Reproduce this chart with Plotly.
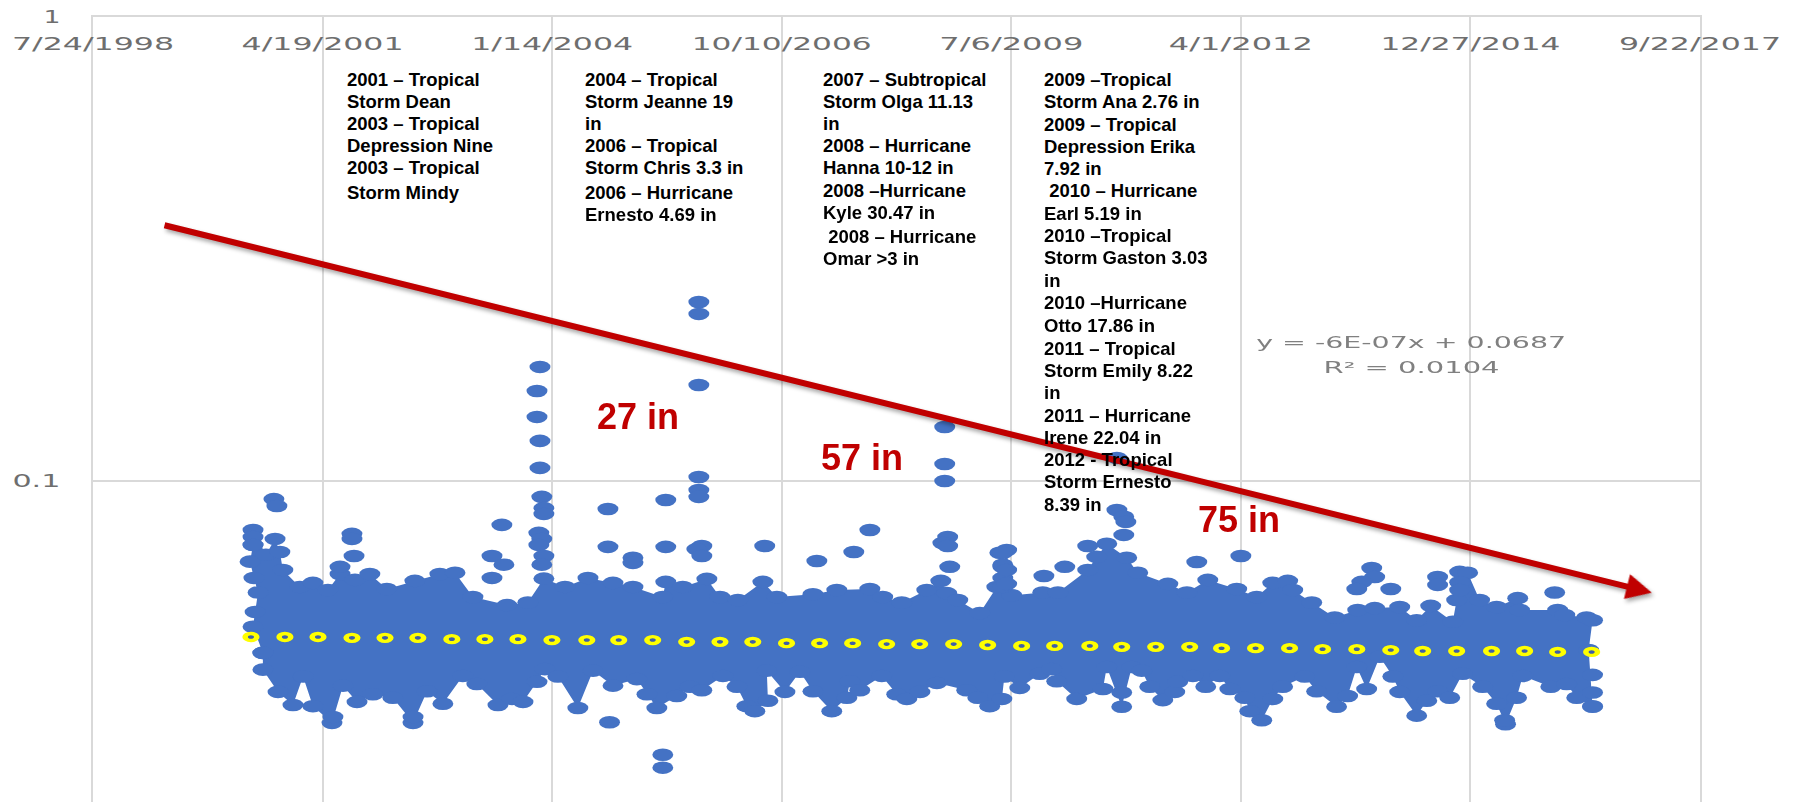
import plotly.graph_objects as go

# Excel serial dates on the x axis, ratio values on the log y axis
x_tick_vals = [36000, 37000, 38000, 39000, 40000, 41000, 42000, 43000]
x_tick_text = ["7/24/1998", "4/19/2001", "1/14/2004", "10/10/2006", "7/6/2009", "4/1/2012", "12/27/2014", "9/22/2017"]
y_tick_vals = [0.1, 1]
y_tick_text = ["0.1", "1"]

upper_days = [36740, 36697, 36706, 36719, 36701, 36684, 36697, 36697, 36753, 36793, 36814, 36827, 36901, 36958, 37023, 37076, 37141, 37206, 37280,
              37402, 37511, 37577, 37655, 37803, 37894, 37964, 38056, 38156, 38265, 38352, 38482, 38495, 38569, 38674, 38731,
              38809, 38918, 38979, 39136, 39240, 39384, 39440, 39523, 39632, 39693, 39719, 39767, 39863, 39937, 39963, 39980,
              40002, 40137, 40203, 40333, 40372, 40416, 40503, 40551, 40682, 40765, 40856, 40982, 41069, 41139, 41204, 41226,
              41309, 41409, 41509, 41583, 41692, 41766, 41827, 41923, 41940, 41953, 41988, 42040, 42114, 42206, 42214, 42380,
              42411, 42506, 42532, 42515]
upper_vals = [0.0426, 0.0485, 0.0522, 0.0575, 0.0618, 0.0670, 0.0728, 0.0784, 0.0693, 0.0750, 0.0703, 0.0643, 0.0591, 0.0603, 0.0582, 0.0630, 0.0612, 0.0630, 0.0585,
              0.0609, 0.0630, 0.0634, 0.0562, 0.0540, 0.0547, 0.0616, 0.0591, 0.0618, 0.0603, 0.0591, 0.0562, 0.0606, 0.0591, 0.0615, 0.0562,
              0.0554, 0.0606, 0.0562, 0.0570, 0.0582, 0.0585, 0.0562, 0.0547, 0.0582, 0.0609, 0.0573, 0.0554, 0.0519, 0.0591, 0.0653, 0.0710,
              0.0567, 0.0575, 0.0575, 0.0643, 0.0686, 0.0732, 0.0683, 0.0634, 0.0600, 0.0575, 0.0612, 0.0585, 0.0562, 0.0603, 0.0609, 0.0582,
              0.0547, 0.0508, 0.0527, 0.0532, 0.0535, 0.0501, 0.0538, 0.0497, 0.0554, 0.0637, 0.0634, 0.0554, 0.0535, 0.0559, 0.0527, 0.0527,
              0.0514, 0.0508, 0.0501, 0.0432]

lower_days = [36740, 36740, 36806, 36871, 36915, 36958, 37041, 37089, 37150, 37219, 37306, 37394, 37455, 37524, 37611, 37672, 37764, 37825,
              37873, 37934, 37968, 38025, 38112, 38178, 38265, 38369, 38413, 38456, 38543, 38600, 38652, 38744, 38805, 38848, 38883,
              38940, 38935, 39014, 39079, 39136, 39218, 39284, 39297, 39340, 39436, 39501, 39545, 39602, 39676, 39806, 39854, 39906,
              39959, 39970, 40037, 40124, 40176, 40198, 40285, 40399, 40416, 40481, 40525, 40568, 40603, 40660, 40712, 40725, 40791,
              40847, 40908, 40952, 41017, 41039, 41091, 41139, 41182, 41278, 41330, 41417, 41465, 41505, 41548, 41605, 41662, 41692,
              41766, 41810, 41857, 41910, 41966, 42053, 42114, 42153, 42201, 42228, 42350, 42419, 42463, 42532]
lower_vals = [0.0426, 0.0392, 0.0351, 0.0329, 0.0379, 0.0327, 0.0301, 0.0362, 0.0334, 0.0347, 0.0341, 0.0301, 0.0352, 0.0331, 0.0380, 0.0365, 0.0329, 0.0339,
              0.0334, 0.0369, 0.0393, 0.0379, 0.0324, 0.0390, 0.0362, 0.0374, 0.0347, 0.0324, 0.0344, 0.0360, 0.0354, 0.0380, 0.0360, 0.0327, 0.0319,
              0.0336, 0.0390, 0.0351, 0.0388, 0.0352, 0.0319, 0.0341, 0.0370, 0.0354, 0.0380, 0.0347, 0.0339, 0.0351, 0.0367, 0.0354, 0.0341, 0.0327,
              0.0339, 0.0379, 0.0358, 0.0384, 0.0393, 0.0370, 0.0339, 0.0356, 0.0397, 0.0326, 0.0397, 0.0390, 0.0360, 0.0337, 0.0351, 0.0369, 0.0380,
              0.0360, 0.0380, 0.0356, 0.0341, 0.0319, 0.0305, 0.0339, 0.0360, 0.0379, 0.0352, 0.0326, 0.0344, 0.0397, 0.0356, 0.0418, 0.0379, 0.0351,
              0.0312, 0.0336, 0.0352, 0.0341, 0.0384, 0.0360, 0.0331, 0.0299, 0.0341, 0.0380, 0.0360, 0.0365, 0.0341, 0.0327]

outlier_days = [36788, 36801, 36697, 36697, 37076, 37128, 37128, 37137, 37781, 37738, 37790, 37738, 37947, 37934, 37934, 37947, 37947,
                37955, 37964, 37964, 37942, 37955, 37942, 37964, 37955, 38243, 38243, 38352, 38352, 38495, 38495, 38639, 38639, 38639,
                38639, 38639, 38639, 38652, 38630, 38652, 38926, 39153, 39314, 39384, 39723, 39702, 39723, 39732, 39710, 39710, 39710,
                39950, 40460, 40460, 40490, 40499, 40490, 40333, 40233, 40142, 40808, 41000, 41570, 41583, 41527, 41505, 41653, 41857,
                41857, 41953, 41953, 42367, 38250, 38482, 38482, 40481, 37045, 37394, 42149,
                39963, 39963, 39963, 39963, 39980, 39980, 42532, 42532, 42532]
outlier_vals = [0.0914, 0.0883, 0.0757, 0.0728, 0.0653, 0.0769, 0.0750, 0.0689, 0.0804, 0.0689, 0.0660, 0.0618, 0.1761, 0.1563, 0.1374, 0.1220, 0.1067,
                0.0924, 0.0874, 0.0849, 0.0773, 0.0750, 0.0728, 0.0689, 0.0660, 0.0870, 0.0721, 0.0683, 0.0666, 0.0910, 0.0721, 0.2431, 0.2291, 0.1610,
                0.1020, 0.0956, 0.0924, 0.0724, 0.0713, 0.0689, 0.0724, 0.0672, 0.0703, 0.0784, 0.0757, 0.0735, 0.0724, 0.0653, 0.1307, 0.1088, 0.1000,
                0.0700, 0.1121, 0.0866, 0.0837, 0.0816, 0.0765, 0.0724, 0.0653, 0.0624, 0.0669, 0.0689, 0.0649, 0.0621, 0.0606, 0.0585, 0.0585, 0.0621,
                0.0597, 0.0605, 0.0582, 0.0575, 0.0302, 0.0257, 0.0241, 0.0350, 0.0310, 0.0310, 0.0305,
                0.0700, 0.0660, 0.0618, 0.0591, 0.0643, 0.0600, 0.0382, 0.0350, 0.0326]

median_days = [36688, 36836, 36980, 37128, 37272, 37415, 37563, 37707, 37851, 37999, 38151, 38290, 38438, 38586, 38731, 38874, 39021,
               39165, 39309, 39457, 39601, 39749, 39897, 40045, 40189, 40342, 40481, 40629, 40777, 40916, 41064, 41212, 41356, 41505,
               41653, 41792, 41940, 42092, 42236, 42380, 42528]
median_vals = [0.0461, 0.0461, 0.0461, 0.0459, 0.0459, 0.0459, 0.0456, 0.0456, 0.0456, 0.0454, 0.0454, 0.0454, 0.0454, 0.0450, 0.0450, 0.0450, 0.0447,
               0.0447, 0.0447, 0.0445, 0.0445, 0.0445, 0.0443, 0.0441, 0.0441, 0.0441, 0.0439, 0.0439, 0.0439, 0.0436, 0.0436, 0.0436, 0.0434, 0.0434,
               0.0432, 0.0430, 0.0430, 0.0430, 0.0430, 0.0428, 0.0428]

arrow_days = [36305, 42790]
arrow_logs = [-0.448, -1.241]

block_1 = ["2001 – Tropical", "Storm Dean", "2003 – Tropical", "Depression Nine", "2003 – Tropical", "Storm Mindy"]
block_2 = ["2004 – Tropical", "Storm Jeanne 19", "in", "2006 – Tropical", "Storm Chris 3.3 in", "2006 – Hurricane", "Ernesto 4.69 in"]
block_3 = ["2007 – Subtropical", "Storm Olga 11.13", "in", "2008 – Hurricane", "Hanna 10-12 in", "2008 –Hurricane", "Kyle 30.47 in",
           "\u00a02008 – Hurricane", "Omar >3 in"]
block_4 = ["2009 –Tropical", "Storm Ana 2.76 in", "2009 – Tropical", "Depression Erika", "7.92 in", "\u00a02010 – Hurricane", "Earl 5.19 in",
           "2010 –Tropical", "Storm Gaston 3.03", "in", "2010 –Hurricane", "Otto 17.86 in", "2011 – Tropical", "Storm Emily 8.22", "in",
           "2011 – Hurricane", "Irene 22.04 in", "2012 - Tropical", "Storm Ernesto", "8.39 in"]
totals = ["27 in", "57 in", "75 in"]
equation = ["y = -6E-07x + 0.0687", "R² = 0.0104"]

W, H = 1801, 802
L, R, T, B = 93, 1700, 17, 802
BLUE, RED = "#4472C4", "#C00000"
GRID = "#D9D9D9"
TICK = "#6E6E6E"


def px(x):
    return (x - L) / (R - L)


def py(y):
    return 1 - (y - T) / (B - T)


def dots():
    return dict(symbol="circle", size=13.5, color=BLUE, line=dict(width=0))


fig = go.Figure()
fig.add_trace(go.Scatter(x=upper_days + lower_days[::-1], y=upper_vals + lower_vals[::-1], mode="lines", fill="toself",
                         fillcolor=BLUE, line=dict(width=0, color=BLUE), hoverinfo="skip", showlegend=False))
for xs, ys in [(upper_days, upper_vals), (lower_days, lower_vals), (outlier_days, outlier_vals)]:
    fig.add_trace(go.Scatter(x=xs, y=ys, mode="markers", marker=dots(), showlegend=False))
fig.add_trace(go.Scatter(x=median_days, y=median_vals, mode="markers", showlegend=False,
                         marker=dict(symbol="circle", size=7.5, color="#3E5FA8", line=dict(width=3.6, color="#FFFF00"))))

anns = []


def text_at(x, y, s, size, color, bold=True, anchor="left", family="Liberation Sans"):
    anns.append(dict(xref="paper", yref="paper", x=px(x), y=py(y), text=s, showarrow=False, xanchor=anchor, yanchor="middle",
                     font=dict(family=family, size=size, color=color, weight="bold" if bold else "normal")))


# trend arrow goes under the text
anns.append(dict(xref="x", yref="y", axref="x", ayref="y", x=arrow_days[1], y=arrow_logs[1], ax=arrow_days[0], ay=arrow_logs[0],
                 text="", showarrow=True, arrowhead=2, arrowsize=0.85, arrowwidth=6, arrowcolor=RED, standoff=0, startstandoff=0))

b1_y = [80, 102, 124, 146, 168, 193]
b2_y = [80, 102, 124, 146, 168, 193, 215]
b3_y = [80, 102, 124, 146, 168, 191, 213, 237, 259]
b4_y = [80, 102, 125, 147, 169, 191, 214, 236, 258, 281, 303, 325, 348, 370, 392, 415, 437, 459, 481, 504]
for left, lines, ys in [(345, block_1, b1_y), (583, block_2, b2_y), (821, block_3, b3_y), (1042, block_4, b4_y)]:
    for s, y in zip(lines, ys):
        text_at(left, y, s, 18.5, "#000000")

for s, (x, y) in zip(totals, [(638, 416), (862, 457), (1239, 519)]):
    text_at(x, y, s, 36, RED, anchor="center")
for s, y in zip(equation, [342, 367]):
    text_at(1411, y, s, 16, "#808080", bold=False, anchor="center", family="DejaVu Sans")

fig.update_layout(
    width=W, height=H, autosize=False, paper_bgcolor="white", plot_bgcolor="white", showlegend=False,
    margin=dict(l=L, r=W - R, t=T, b=H - B, pad=0), annotations=anns,
    xaxis=dict(range=[36000, 43000], side="top", ticklabelposition="inside", tickmode="array", tickvals=x_tick_vals,
               ticktext=x_tick_text, showgrid=True, gridcolor=GRID, gridwidth=2, zeroline=False, showline=True, linecolor=GRID,
               linewidth=2, ticks="", ticklabeloverflow="allow", ticklabelstandoff=21,
               tickfont=dict(family="DejaVu Sans", size=18, color=TICK)),
    yaxis=dict(type="log", range=[-1.692, 0], tickmode="array", tickvals=y_tick_vals, ticktext=y_tick_text, showgrid=True,
               gridcolor=GRID, gridwidth=1.5, zeroline=False, showline=True, mirror=True, linecolor=GRID, linewidth=2, ticks="",
               ticklabelstandoff=27, tickfont=dict(family="DejaVu Sans", size=18, color=TICK)),
)

post = """
document.body.style.margin = '0';
document.documentElement.style.overflow = 'hidden';
var gd = document.querySelector('.js-plotly-plot');
function widen(t, w) { t.setAttribute('lengthAdjust', 'spacingAndGlyphs'); t.setAttribute('textLength', w); }
function polish() {
  gd.querySelectorAll('.xtick text').forEach(function (t) { widen(t, t.textContent.length * 18); });
  gd.querySelectorAll('.ytick text').forEach(function (t) { widen(t, t.textContent === '1' ? 17 : 48); });
  gd.querySelectorAll('.annotation-text').forEach(function (t) {
    if (t.textContent.indexOf('y =') === 0) widen(t, 310);
    if (t.textContent.indexOf('R²') === 0) widen(t, 176);
  });
  gd.querySelectorAll('.scatterlayer .points path').forEach(function (p) {
    var m = p.getAttribute('transform');
    if (m && m.indexOf('scale') < 0) p.setAttribute('transform', m + ' scale(1.55,0.93)');
  });
  gd.querySelectorAll('.annotation-arrow-g').forEach(function (p) {
    p.style.filter = 'drop-shadow(2px 3px 2px rgba(0,0,0,0.35))';
  });
}
polish();
"""
fig.write_html("out.html", post_script=post, config={"displayModeBar": False})
